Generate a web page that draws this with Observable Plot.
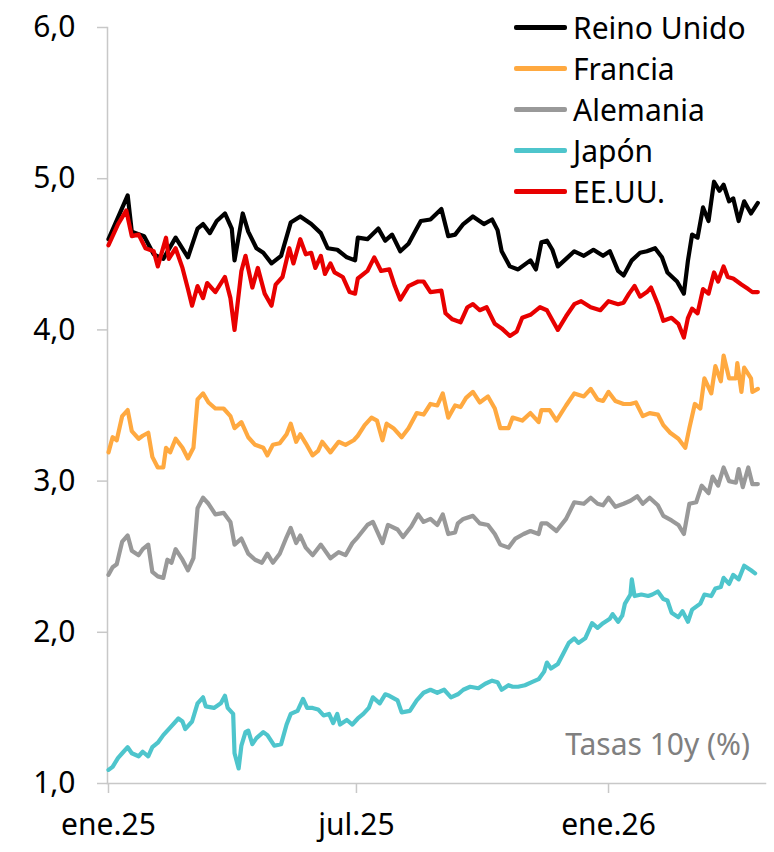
<!DOCTYPE html>
<html>
<head>
<meta charset="utf-8">
<script src="https://cdn.jsdelivr.net/npm/d3@7"></script>
<script src="https://cdn.jsdelivr.net/npm/@observablehq/plot@0.6"></script>
<style>
  html, body { margin: 0; padding: 0; background: #fff; }
  #wrap { position: relative; width: 774px; height: 852px; font-family: "Noto Sans", sans-serif; }
  #legend { position: absolute; left: 514px; top: 7px; font-size: 30px; color: #000; }
  #legend .row { display: flex; align-items: center; height: 41px; }
  #legend .sw { display: inline-block; width: 53px; height: 4.5px; border-radius: 2px; margin-right: 6px; }
  #note { position: absolute; right: 24px; top: 726px; font-size: 30px; color: #808080; line-height: 36px; }
</style>
</head>
<body>
<div id="wrap">
  <div id="chart"></div>
  <div id="legend"></div>
  <div id="note"></div>
</div>
<script>
const seriesNames = ["Reino Unido", "Francia", "Alemania", "Japón", "EE.UU."];
const seriesColors = ["#000000", "#FFA940", "#999999", "#4EC5CC", "#E80000"];
const noteText = "Tasas 10y (%)";
const yTicks = [1, 2, 3, 4, 5, 6];
const xTickDates = ["2025-01-01", "2025-07-01", "2026-01-01"];
const xTickLabels = ["ene.25", "jul.25", "ene.26"];

const uk = [
["2025-01-01",4.60],["2025-01-15",4.89],["2025-01-18",4.65],["2025-01-27",4.62],["2025-02-03",4.50],
["2025-02-10",4.47],["2025-02-19",4.61],["2025-02-28",4.48],["2025-03-07",4.67],["2025-03-11",4.70],
["2025-03-16",4.64],["2025-03-21",4.72],["2025-03-27",4.77],["2025-04-01",4.67],["2025-04-03",4.46],
["2025-04-09",4.77],["2025-04-13",4.65],["2025-04-19",4.54],["2025-04-24",4.51],["2025-04-30",4.44],
["2025-05-07",4.49],["2025-05-14",4.71],["2025-05-21",4.75],["2025-05-29",4.70],["2025-06-05",4.64],
["2025-06-10",4.54],["2025-06-17",4.53],["2025-06-24",4.48],["2025-06-30",4.46],["2025-07-02",4.61],
["2025-07-09",4.60],["2025-07-17",4.67],["2025-07-22",4.59],["2025-07-27",4.63],["2025-08-02",4.52],
["2025-08-08",4.57],["2025-08-14",4.67],["2025-08-17",4.72],["2025-08-24",4.73],["2025-09-01",4.80],
["2025-09-06",4.62],["2025-09-11",4.63],["2025-09-17",4.70],["2025-09-24",4.75],["2025-10-02",4.70],
["2025-10-08",4.73],["2025-10-12",4.66],["2025-10-15",4.52],["2025-10-21",4.42],["2025-10-27",4.40],
["2025-11-05",4.46],["2025-11-09",4.40],["2025-11-13",4.58],["2025-11-17",4.59],["2025-11-21",4.53],
["2025-11-25",4.42],["2025-12-01",4.47],["2025-12-07",4.52],["2025-12-14",4.49],["2025-12-21",4.53],
["2025-12-28",4.49],["2026-01-02",4.52],["2026-01-08",4.39],["2026-01-12",4.36],["2026-01-18",4.46],
["2026-01-24",4.51],["2026-01-29",4.52],["2026-02-04",4.54],["2026-02-09",4.48],["2026-02-13",4.38],
["2026-02-20",4.32],["2026-02-25",4.24],["2026-02-28",4.46],["2026-03-03",4.63],["2026-03-07",4.61],
["2026-03-11",4.81],["2026-03-15",4.72],["2026-03-19",4.98],["2026-03-23",4.92],["2026-03-26",4.96],
["2026-03-30",4.85],["2026-04-02",4.87],["2026-04-06",4.72],["2026-04-10",4.85],["2026-04-15",4.77],
["2026-04-20",4.84]
];

const usa = [
["2025-01-01",4.56],["2025-01-08",4.70],["2025-01-14",4.79],["2025-01-18",4.62],["2025-01-23",4.63],
["2025-01-28",4.54],["2025-02-03",4.52],["2025-02-06",4.42],["2025-02-12",4.61],["2025-02-14",4.47],
["2025-02-19",4.54],["2025-02-24",4.41],["2025-02-28",4.27],["2025-03-03",4.16],["2025-03-07",4.29],
["2025-03-11",4.21],["2025-03-14",4.31],["2025-03-20",4.25],["2025-03-27",4.35],["2025-03-31",4.21],
["2025-04-03",4.00],["2025-04-08",4.39],["2025-04-11",4.49],["2025-04-16",4.28],["2025-04-20",4.41],
["2025-04-25",4.24],["2025-04-30",4.16],["2025-05-03",4.30],["2025-05-08",4.35],["2025-05-13",4.54],
["2025-05-16",4.44],["2025-05-21",4.60],["2025-05-25",4.50],["2025-05-29",4.51],["2025-06-01",4.41],
["2025-06-05",4.49],["2025-06-08",4.37],["2025-06-12",4.44],["2025-06-15",4.38],["2025-06-21",4.35],
["2025-06-26",4.25],["2025-06-30",4.24],["2025-07-02",4.34],["2025-07-09",4.39],["2025-07-14",4.48],
["2025-07-19",4.39],["2025-07-25",4.40],["2025-07-29",4.29],["2025-08-02",4.20],["2025-08-08",4.29],
["2025-08-15",4.32],["2025-08-19",4.32],["2025-08-24",4.25],["2025-09-01",4.26],["2025-09-04",4.11],
["2025-09-09",4.07],["2025-09-15",4.05],["2025-09-20",4.15],["2025-09-24",4.17],["2025-09-29",4.13],
["2025-10-04",4.15],["2025-10-10",4.04],["2025-10-15",4.01],["2025-10-21",3.96],["2025-10-26",3.99],
["2025-10-30",4.08],["2025-11-05",4.10],["2025-11-12",4.15],["2025-11-17",4.13],["2025-11-25",4.00],
["2025-12-01",4.09],["2025-12-07",4.17],["2025-12-12",4.19],["2025-12-19",4.15],["2025-12-26",4.13],
["2026-01-01",4.19],["2026-01-08",4.17],["2026-01-12",4.18],["2026-01-16",4.24],["2026-01-20",4.29],
["2026-01-24",4.22],["2026-01-29",4.25],["2026-02-01",4.28],["2026-02-06",4.17],["2026-02-10",4.06],
["2026-02-16",4.08],["2026-02-21",4.04],["2026-02-25",3.95],["2026-02-28",4.08],["2026-03-03",4.14],
["2026-03-07",4.11],["2026-03-11",4.27],["2026-03-15",4.24],["2026-03-19",4.38],["2026-03-22",4.32],
["2026-03-26",4.42],["2026-03-29",4.35],["2026-04-02",4.34],["2026-04-08",4.30],["2026-04-13",4.27],
["2026-04-16",4.25],["2026-04-20",4.25]
];

const france = [
["2025-01-01",3.19],["2025-01-04",3.29],["2025-01-07",3.27],["2025-01-11",3.43],["2025-01-15",3.47],
["2025-01-18",3.33],["2025-01-23",3.28],["2025-01-26",3.30],["2025-01-30",3.32],["2025-02-02",3.16],
["2025-02-06",3.09],["2025-02-10",3.09],["2025-02-12",3.22],["2025-02-15",3.19],["2025-02-19",3.28],
["2025-02-24",3.22],["2025-02-28",3.15],["2025-03-04",3.22],["2025-03-07",3.54],["2025-03-11",3.58],
["2025-03-15",3.52],["2025-03-20",3.48],["2025-03-26",3.48],["2025-03-31",3.43],["2025-04-03",3.35],
["2025-04-08",3.39],["2025-04-13",3.29],["2025-04-18",3.24],["2025-04-24",3.22],["2025-04-27",3.17],
["2025-05-01",3.24],["2025-05-06",3.25],["2025-05-11",3.31],["2025-05-14",3.38],["2025-05-18",3.26],
["2025-05-21",3.31],["2025-05-25",3.25],["2025-05-30",3.17],["2025-06-03",3.20],["2025-06-06",3.26],
["2025-06-12",3.19],["2025-06-18",3.26],["2025-06-23",3.24],["2025-06-29",3.27],["2025-07-02",3.30],
["2025-07-07",3.37],["2025-07-12",3.42],["2025-07-16",3.40],["2025-07-20",3.27],["2025-07-23",3.38],
["2025-07-28",3.35],["2025-08-03",3.29],["2025-08-08",3.35],["2025-08-14",3.45],["2025-08-19",3.44],
["2025-08-24",3.51],["2025-08-29",3.50],["2025-09-02",3.58],["2025-09-06",3.42],["2025-09-11",3.50],
["2025-09-15",3.49],["2025-09-19",3.55],["2025-09-24",3.59],["2025-09-29",3.52],["2025-10-05",3.56],
["2025-10-10",3.48],["2025-10-14",3.35],["2025-10-20",3.35],["2025-10-23",3.42],["2025-10-30",3.40],
["2025-11-05",3.45],["2025-11-11",3.39],["2025-11-13",3.47],["2025-11-19",3.47],["2025-11-24",3.40],
["2025-12-01",3.50],["2025-12-07",3.58],["2025-12-14",3.56],["2025-12-19",3.61],["2025-12-24",3.54],
["2025-12-28",3.53],["2026-01-01",3.59],["2026-01-06",3.53],["2026-01-12",3.51],["2026-01-17",3.51],
["2026-01-21",3.52],["2026-01-26",3.43],["2026-01-31",3.45],["2026-02-06",3.44],["2026-02-10",3.37],
["2026-02-15",3.32],["2026-02-21",3.28],["2026-02-26",3.22],["2026-03-01",3.35],["2026-03-05",3.51],
["2026-03-09",3.48],["2026-03-12",3.68],["2026-03-17",3.58],["2026-03-20",3.76],["2026-03-24",3.66],
["2026-03-26",3.83],["2026-03-30",3.68],["2026-04-04",3.68],["2026-04-05",3.78],["2026-04-08",3.59],
["2026-04-10",3.75],["2026-04-15",3.68],["2026-04-16",3.59],["2026-04-20",3.61]
];

const germany = [
["2025-01-01",2.38],["2025-01-04",2.43],["2025-01-07",2.45],["2025-01-11",2.60],["2025-01-15",2.64],
["2025-01-18",2.54],["2025-01-23",2.51],["2025-01-26",2.55],["2025-01-30",2.58],["2025-02-02",2.40],
["2025-02-06",2.37],["2025-02-10",2.36],["2025-02-13",2.48],["2025-02-16",2.46],["2025-02-19",2.55],
["2025-02-24",2.48],["2025-02-28",2.41],["2025-03-04",2.49],["2025-03-07",2.82],["2025-03-11",2.89],
["2025-03-15",2.85],["2025-03-20",2.78],["2025-03-26",2.79],["2025-03-31",2.73],["2025-04-03",2.58],
["2025-04-08",2.62],["2025-04-13",2.52],["2025-04-18",2.48],["2025-04-23",2.46],["2025-04-27",2.52],
["2025-05-01",2.46],["2025-05-06",2.52],["2025-05-11",2.63],["2025-05-14",2.69],["2025-05-18",2.59],
["2025-05-21",2.64],["2025-05-25",2.56],["2025-05-30",2.51],["2025-06-05",2.58],["2025-06-12",2.49],
["2025-06-18",2.53],["2025-06-23",2.51],["2025-06-28",2.59],["2025-07-02",2.63],["2025-07-09",2.71],
["2025-07-13",2.73],["2025-07-20",2.59],["2025-07-24",2.71],["2025-07-31",2.68],["2025-08-04",2.63],
["2025-08-10",2.70],["2025-08-15",2.78],["2025-08-19",2.73],["2025-08-24",2.75],["2025-08-29",2.71],
["2025-09-02",2.78],["2025-09-06",2.65],["2025-09-11",2.66],["2025-09-13",2.72],["2025-09-17",2.75],
["2025-09-24",2.77],["2025-09-29",2.72],["2025-10-05",2.71],["2025-10-10",2.65],["2025-10-14",2.58],
["2025-10-20",2.56],["2025-10-25",2.62],["2025-10-31",2.65],["2025-11-05",2.67],["2025-11-11",2.65],
["2025-11-13",2.72],["2025-11-17",2.72],["2025-11-24",2.67],["2025-12-01",2.75],["2025-12-07",2.86],
["2025-12-14",2.85],["2025-12-19",2.89],["2025-12-24",2.85],["2025-12-28",2.84],["2026-01-01",2.89],
["2026-01-06",2.83],["2026-01-12",2.85],["2026-01-17",2.87],["2026-01-22",2.90],["2026-01-26",2.85],
["2026-01-31",2.89],["2026-02-06",2.84],["2026-02-10",2.77],["2026-02-16",2.74],["2026-02-21",2.71],
["2026-02-25",2.65],["2026-03-01",2.85],["2026-03-06",2.86],["2026-03-10",2.97],["2026-03-15",2.92],
["2026-03-18",3.03],["2026-03-22",2.97],["2026-03-26",3.09],["2026-03-30",3.00],["2026-04-04",2.99],
["2026-04-06",3.08],["2026-04-09",2.96],["2026-04-13",3.09],["2026-04-16",2.98],["2026-04-20",2.98]
];

const japan = [
["2025-01-01",1.09],["2025-01-04",1.11],["2025-01-08",1.17],["2025-01-11",1.20],["2025-01-15",1.24],
["2025-01-18",1.20],["2025-01-23",1.18],["2025-01-26",1.21],["2025-01-30",1.18],["2025-02-02",1.24],
["2025-02-06",1.27],["2025-02-10",1.32],["2025-02-15",1.37],["2025-02-21",1.43],["2025-02-24",1.41],
["2025-02-26",1.36],["2025-03-03",1.41],["2025-03-07",1.53],["2025-03-11",1.57],["2025-03-13",1.51],
["2025-03-19",1.50],["2025-03-24",1.53],["2025-03-27",1.58],["2025-03-29",1.50],["2025-04-02",1.46],
["2025-04-03",1.20],["2025-04-06",1.10],["2025-04-08",1.25],["2025-04-11",1.34],["2025-04-13",1.35],
["2025-04-16",1.26],["2025-04-19",1.30],["2025-04-24",1.34],["2025-04-27",1.32],["2025-05-02",1.25],
["2025-05-07",1.26],["2025-05-11",1.39],["2025-05-14",1.46],["2025-05-19",1.48],["2025-05-23",1.56],
["2025-05-26",1.50],["2025-05-30",1.50],["2025-06-03",1.49],["2025-06-07",1.45],["2025-06-11",1.46],
["2025-06-14",1.40],["2025-06-17",1.46],["2025-06-19",1.39],["2025-06-24",1.42],["2025-06-28",1.39],
["2025-07-02",1.43],["2025-07-06",1.46],["2025-07-10",1.50],["2025-07-13",1.57],["2025-07-18",1.53],
["2025-07-22",1.59],["2025-07-25",1.58],["2025-07-31",1.55],["2025-08-03",1.47],["2025-08-09",1.48],
["2025-08-14",1.55],["2025-08-19",1.60],["2025-08-24",1.62],["2025-08-29",1.60],["2025-09-03",1.62],
["2025-09-08",1.57],["2025-09-13",1.59],["2025-09-17",1.62],["2025-09-22",1.64],["2025-09-28",1.63],
["2025-10-03",1.66],["2025-10-08",1.68],["2025-10-12",1.67],["2025-10-15",1.62],["2025-10-20",1.65],
["2025-10-23",1.64],["2025-10-27",1.64],["2025-11-01",1.65],["2025-11-06",1.67],["2025-11-11",1.69],
["2025-11-15",1.74],["2025-11-17",1.80],["2025-11-20",1.76],["2025-11-25",1.79],["2025-11-29",1.86],
["2025-12-03",1.93],["2025-12-07",1.96],["2025-12-10",1.93],["2025-12-15",1.96],["2025-12-20",2.06],
["2025-12-24",2.03],["2025-12-28",2.06],["2026-01-02",2.09],["2026-01-04",2.12],["2026-01-08",2.07],
["2026-01-11",2.11],["2026-01-13",2.19],["2026-01-17",2.25],["2026-01-18",2.35],["2026-01-20",2.24],
["2026-01-25",2.25],["2026-01-30",2.24],["2026-02-02",2.25],["2026-02-06",2.27],["2026-02-10",2.22],
["2026-02-13",2.21],["2026-02-16",2.13],["2026-02-21",2.10],["2026-02-24",2.14],["2026-02-28",2.07],
["2026-03-03",2.15],["2026-03-09",2.19],["2026-03-12",2.25],["2026-03-17",2.24],["2026-03-20",2.29],
["2026-03-24",2.30],["2026-03-26",2.36],["2026-03-30",2.32],["2026-04-02",2.38],["2026-04-06",2.35],
["2026-04-10",2.44],["2026-04-15",2.41],["2026-04-18",2.39]
];

const seriesData = [uk, france, germany, japan, usa];
const rows = [];
seriesData.forEach((arr, i) => {
  arr.forEach(([d, v]) => rows.push({series: seriesNames[i], date: new Date(d + "T00:00:00Z"), value: v}));
});
// draw order: Japan, Alemania, Francia, Reino Unido, EE.UU.
const drawOrder = ["Japón", "Alemania", "Francia", "Reino Unido", "EE.UU."];

const tickDates = xTickDates.map(d => new Date(d + "T00:00:00Z"));
const labelOf = new Map(tickDates.map((d, i) => [+d, xTickLabels[i]]));

const chart = Plot.plot({
  width: 774,
  height: 852,
  marginTop: 27,
  marginBottom: 69,
  marginLeft: 107,
  marginRight: 9,
  style: {fontFamily: "'Noto Sans', sans-serif", fontSize: "30px", color: "#000", background: "#fff"},
  x: {type: "utc", domain: [new Date("2024-12-31T06:30:00Z"), new Date("2026-04-25T14:00:00Z")]},
  y: {domain: [1, 6]},
  color: {domain: seriesNames, range: seriesColors},
  marks: [
    Plot.frame({anchor: "left", stroke: "#c8c8c8", strokeWidth: 1.5}),
    Plot.frame({anchor: "bottom", stroke: "#c8c8c8", strokeWidth: 1.5}),
    Plot.axisY({ticks: yTicks, tickSize: 10, tickPadding: 22, stroke: "#c8c8c8", strokeWidth: 1.5,
      tickFormat: d => d.toFixed(1).replace(".", ","), label: null, fill: "#000"}),
    Plot.axisX({ticks: tickDates, tickSize: 10, tickPadding: 20, stroke: "#c8c8c8", strokeWidth: 1.5,
      tickFormat: d => labelOf.get(+d), label: null, fill: "#000"}),
    ...drawOrder.map(name => Plot.line(rows.filter(r => r.series === name), {
      x: "date", y: "value", stroke: "series", strokeWidth: 4.2, strokeLinejoin: "round", strokeLinecap: "round"
    }))
  ]
});
document.getElementById("chart").appendChild(chart);

const legend = document.getElementById("legend");
seriesNames.forEach((n, i) => {
  const row = document.createElement("div");
  row.className = "row";
  const sw = document.createElement("span");
  sw.className = "sw";
  sw.style.background = seriesColors[i];
  const t = document.createElement("span");
  t.textContent = n;
  row.appendChild(sw); row.appendChild(t);
  legend.appendChild(row);
});
document.getElementById("note").textContent = noteText;
</script>
</body>
</html>
